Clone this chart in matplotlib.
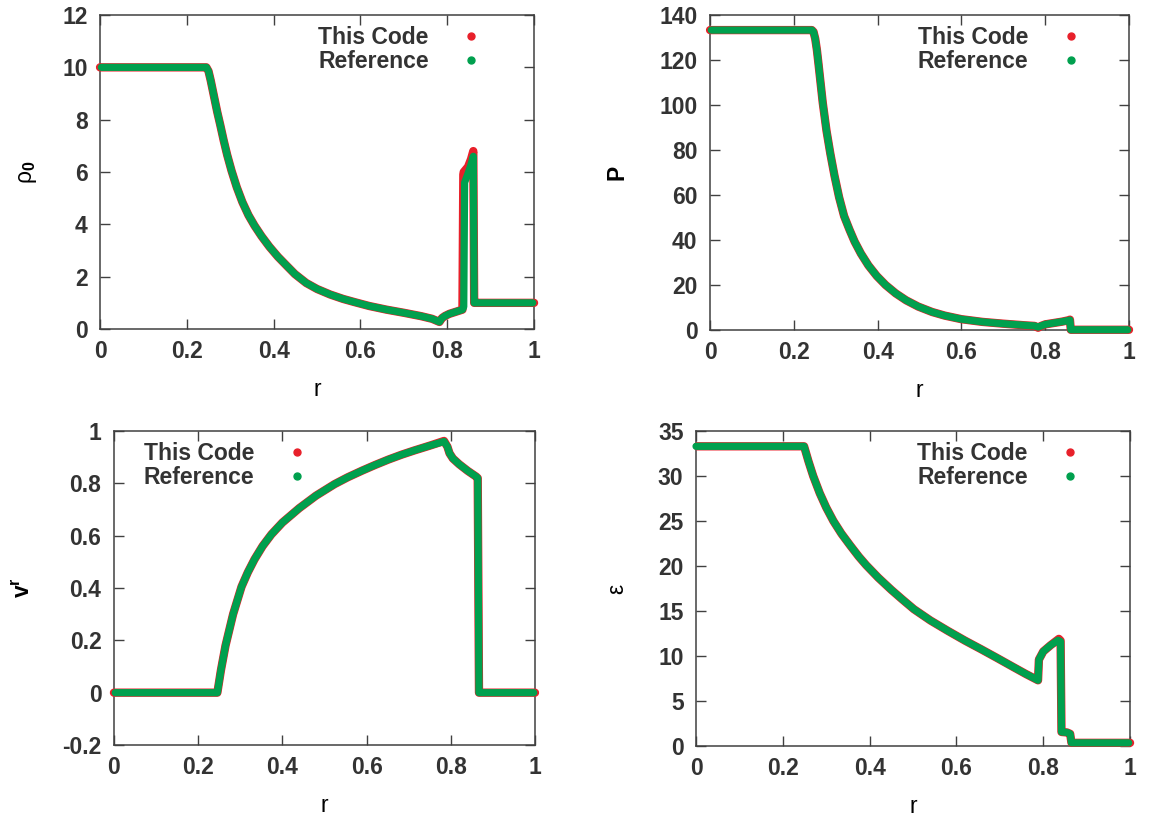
import matplotlib

matplotlib.use("Agg")
import matplotlib.pyplot as plt
from matplotlib.lines import Line2D

plt.rcParams.update({
    "font.family": ["Liberation Sans", "DejaVu Sans"],
    "font.weight": "bold",
    "font.size": 16.5,
    "mathtext.fontset": "custom",
    "mathtext.rm": "Liberation Sans",
    "mathtext.it": "Liberation Sans:italic",
    "mathtext.bf": "Liberation Sans:bold",
    "axes.unicode_minus": False,
    "text.color": "#333333",
    "axes.edgecolor": "#404040",
    "axes.linewidth": 1.1,
    "xtick.color": "#404040",
    "ytick.color": "#404040",
    "xtick.labelcolor": "#333333",
    "ytick.labelcolor": "#333333",
})

RED = "#e8202a"
GREEN = "#00a04e"

r_ticks = [0, 0.2, 0.4, 0.6, 0.8, 1]
r_tick_labels = ["0", "0.2", "0.4", "0.6", "0.8", "1"]
series_labels = ["This Code", "Reference"]

# rest-mass density rho_0
r_rho_code = [0.0, 0.05, 0.10, 0.15, 0.20, 0.245, 0.250, 0.255, 0.260, 0.265, 0.270, 0.277, 0.285,
              0.293, 0.303, 0.315, 0.328, 0.342, 0.356, 0.372, 0.390, 0.410, 0.430, 0.449, 0.475,
              0.50, 0.53, 0.56, 0.586, 0.62, 0.66, 0.70, 0.74, 0.765, 0.782, 0.788, 0.795, 0.805,
              0.82, 0.835, 0.837, 0.838, 0.848, 0.855, 0.860, 0.862, 0.864, 0.90, 0.95, 1.0]
rho_code = [10, 10, 10, 10, 10, 10, 9.85, 9.5, 9.1, 8.7, 8.3, 7.8, 7.2,
            6.65, 6.05, 5.42, 4.85, 4.35, 3.95, 3.55, 3.15, 2.76, 2.42, 2.1, 1.76,
            1.53, 1.32, 1.15, 1.03, 0.88, 0.74, 0.62, 0.49, 0.39, 0.27, 0.42, 0.5, 0.58,
            0.66, 0.74, 5.9, 6.0, 6.2, 6.5, 6.8, 1.0, 1.0, 1.0, 1.0, 1.0]
r_rho_ref = [0.003, 0.05, 0.10, 0.15, 0.20, 0.245, 0.250, 0.255, 0.260, 0.265, 0.270, 0.277, 0.285,
             0.293, 0.303, 0.315, 0.328, 0.342, 0.356, 0.372, 0.390, 0.410, 0.430, 0.449, 0.475,
             0.50, 0.53, 0.56, 0.586, 0.62, 0.66, 0.70, 0.74, 0.765, 0.782, 0.788, 0.795, 0.805,
             0.82, 0.835, 0.838, 0.840, 0.848, 0.855, 0.860, 0.862, 0.864, 0.90, 0.95, 0.997]
rho_ref = [10, 10, 10, 10, 10, 10, 9.85, 9.5, 9.1, 8.7, 8.3, 7.8, 7.2,
           6.65, 6.05, 5.42, 4.85, 4.35, 3.95, 3.55, 3.15, 2.76, 2.42, 2.1, 1.76,
           1.53, 1.32, 1.15, 1.03, 0.88, 0.74, 0.62, 0.49, 0.39, 0.27, 0.42, 0.5, 0.58,
           0.66, 0.74, 0.85, 5.6, 5.95, 6.3, 6.6, 1.0, 1.0, 1.0, 1.0, 1.0]

# pressure P
r_p_code = [0.0, 0.05, 0.10, 0.15, 0.20, 0.243, 0.247, 0.251, 0.255, 0.259, 0.264, 0.269, 0.278,
            0.287, 0.297, 0.308, 0.320, 0.333, 0.345, 0.360, 0.378, 0.398, 0.419, 0.443, 0.468,
            0.497, 0.53, 0.56, 0.60, 0.65, 0.70, 0.75, 0.775, 0.783, 0.79, 0.80, 0.82, 0.84,
            0.855, 0.859, 0.861, 0.90, 0.95, 1.0]
p_code = [133.3, 133.3, 133.3, 133.3, 133.3, 133.3, 132.5, 129.5, 124.5, 118, 109.5, 101, 88.5,
          78.5, 68.6, 59, 50.6, 44.5, 39.3, 34.0, 28.7, 24.0, 20.0, 16.3, 13.2,
          10.4, 8.0, 6.4, 4.8, 3.6, 2.8, 2.1, 1.8, 1.0, 1.8, 2.5, 3.1, 3.7,
          4.3, 4.6, 0.1, 0.1, 0.1, 0.1]
r_p_ref = [0.003, 0.05, 0.10, 0.15, 0.20, 0.243, 0.247, 0.251, 0.255, 0.259, 0.264, 0.269, 0.278,
           0.287, 0.297, 0.308, 0.320, 0.333, 0.345, 0.360, 0.378, 0.398, 0.419, 0.443, 0.468,
           0.497, 0.53, 0.56, 0.60, 0.65, 0.70, 0.75, 0.775, 0.783, 0.79, 0.80, 0.82, 0.84,
           0.855, 0.859, 0.861, 0.90, 0.95, 0.997]
p_ref = [133.3, 133.3, 133.3, 133.3, 133.3, 133.3, 132.5, 129.5, 124.5, 118, 109.5, 101, 88.5,
         78.5, 68.6, 59, 50.6, 44.5, 39.3, 34.0, 28.7, 24.0, 20.0, 16.3, 13.2,
         10.4, 8.0, 6.4, 4.8, 3.6, 2.8, 2.1, 1.8, 1.3, 1.8, 2.5, 3.1, 3.7,
         4.2, 4.4, 0.1, 0.1, 0.1, 0.1]

# radial velocity v^r
r_v_code = [0.0, 0.05, 0.10, 0.15, 0.20, 0.2456, 0.254, 0.265, 0.283, 0.303, 0.318, 0.334, 0.353,
            0.374, 0.40, 0.44, 0.48, 0.524, 0.555, 0.59, 0.62, 0.652, 0.684, 0.714, 0.75,
            0.784, 0.792, 0.797, 0.805, 0.82, 0.84, 0.86, 0.864, 0.867, 0.90, 0.95, 1.0]
v_code = [0, 0, 0, 0, 0, 0, 0.085, 0.18, 0.30, 0.405, 0.46, 0.51, 0.56,
          0.605, 0.65, 0.705, 0.753, 0.797, 0.823, 0.849, 0.87, 0.891, 0.91, 0.926, 0.944,
          0.962, 0.94, 0.915, 0.895, 0.873, 0.848, 0.826, 0.82, 0, 0, 0, 0]
r_v_ref = [0.003, 0.05, 0.10, 0.15, 0.20, 0.2456, 0.254, 0.265, 0.283, 0.303, 0.318, 0.334, 0.353,
           0.374, 0.40, 0.44, 0.48, 0.524, 0.555, 0.59, 0.62, 0.652, 0.684, 0.714, 0.75,
           0.784, 0.792, 0.797, 0.805, 0.82, 0.84, 0.86, 0.864, 0.867, 0.90, 0.95, 0.997]
v_ref = [0, 0, 0, 0, 0, 0, 0.085, 0.18, 0.30, 0.405, 0.46, 0.51, 0.56,
         0.605, 0.65, 0.705, 0.753, 0.797, 0.823, 0.849, 0.87, 0.891, 0.91, 0.926, 0.944,
         0.96, 0.94, 0.915, 0.895, 0.873, 0.848, 0.826, 0.82, 0, 0, 0, 0]

# specific internal energy epsilon
r_eps_code = [0.003, 0.05, 0.10, 0.15, 0.20, 0.249, 0.259, 0.270, 0.285, 0.30, 0.3165, 0.335, 0.355,
              0.375, 0.392, 0.42, 0.45, 0.475, 0.502, 0.54, 0.58, 0.62, 0.655, 0.691, 0.73,
              0.76, 0.788, 0.790, 0.80, 0.817, 0.836, 0.840, 0.842, 0.855, 0.862, 0.865, 0.90, 0.95, 1.0]
eps_code = [33.3, 33.3, 33.3, 33.3, 33.3, 33.3, 31.65, 30.0, 28.1, 26.5, 25.0, 23.6, 22.3,
            21.05, 20.1, 18.7, 17.35, 16.3, 15.2, 13.95, 12.8, 11.7, 10.8, 9.85, 8.8,
            8.0, 7.3, 9.6, 10.5, 11.2, 11.9, 11.7, 1.56, 1.5, 1.35, 0.35, 0.35, 0.35, 0.35]
r_eps_ref = [0.0, 0.05, 0.10, 0.15, 0.20, 0.249, 0.259, 0.270, 0.285, 0.30, 0.3165, 0.335, 0.355,
             0.375, 0.392, 0.42, 0.45, 0.475, 0.502, 0.54, 0.58, 0.62, 0.655, 0.691, 0.73,
             0.76, 0.788, 0.790, 0.80, 0.817, 0.834, 0.840, 0.842, 0.855, 0.862, 0.865, 0.90, 0.95, 0.997]
eps_ref = [33.3, 33.3, 33.3, 33.3, 33.3, 33.3, 31.65, 30.0, 28.1, 26.5, 25.0, 23.6, 22.3,
           21.05, 20.1, 18.7, 17.35, 16.3, 15.2, 13.95, 12.8, 11.7, 10.8, 9.85, 8.8,
           8.0, 7.3, 9.6, 10.5, 11.2, 11.75, 11.6, 1.56, 1.5, 1.35, 0.35, 0.35, 0.35, 0.35]


fig = plt.figure(figsize=(11.51, 8.16), dpi=100)


def panel(rect, r_code, y_code, r_ref, y_ref, ylim, yticks, ytick_labels,
          ylabel, ylabel_x, ylabel_weight, legend_anchor):
    ax = fig.add_axes(rect)
    ax.plot(r_code, y_code, color=RED, lw=6.0, solid_capstyle="round",
            solid_joinstyle="round", clip_on=False, zorder=3)
    ax.plot(r_ref, y_ref, color=GREEN, lw=5.2, solid_capstyle="round",
            solid_joinstyle="round", clip_on=False, zorder=4)
    ax.set_xlim(0, 1)
    ax.set_ylim(*ylim)
    ax.set_xticks(r_ticks, r_tick_labels)
    ax.set_yticks(yticks, ytick_labels)
    ax.tick_params(direction="in", top=True, right=True, length=7, width=1.0)
    ax.tick_params(axis="x", pad=8)
    ax.tick_params(axis="y", pad=9)
    ax.set_xlabel("r", va="center")
    ax.xaxis.set_label_coords(0.5, -0.192)
    ax.set_ylabel(ylabel, va="center", fontweight=ylabel_weight)
    ax.yaxis.set_label_coords(ylabel_x, 0.5)
    handles = [Line2D([], [], ls="none", marker="o", ms=5, color=RED),
               Line2D([], [], ls="none", marker="o", ms=5, color=GREEN)]
    ax.legend(handles, series_labels, loc="upper right", bbox_to_anchor=legend_anchor,
              frameon=False, markerfirst=False, handlelength=0.9, handletextpad=1.4,
              borderpad=0, borderaxespad=0, labelspacing=0.06)
    return ax


panel([0.0869, 0.5968, 0.3771, 0.3848], r_rho_code, rho_code, r_rho_ref, rho_ref,
      (0, 12), [0, 2, 4, 6, 8, 10, 12], ["0", "2", "4", "6", "8", "10", "12"],
      r"ρ$_\mathbf{0}$", -0.166, "normal", (0.879, 0.966))

panel([0.6169, 0.5956, 0.3640, 0.3860], r_p_code, p_code, r_p_ref, p_ref,
      (0, 140), [0, 20, 40, 60, 80, 100, 120, 140],
      ["0", "20", "40", "60", "80", "100", "120", "140"],
      "P", -0.222, "bold", (0.885, 0.966))

panel([0.0990, 0.0870, 0.3658, 0.3848], r_v_code, v_code, r_v_ref, v_ref,
      (-0.2, 1), [-0.2, 0, 0.2, 0.4, 0.6, 0.8, 1],
      ["-0.2", "0", "0.2", "0.4", "0.6", "0.8", "1"],
      r"v$^\mathbf{r}$", -0.214, "bold", (0.459, 0.965))

panel([0.6047, 0.0858, 0.3771, 0.3860], r_eps_code, eps_code, r_eps_ref, eps_ref,
      (0, 35), [0, 5, 10, 15, 20, 25, 30, 35],
      ["0", "5", "10", "15", "20", "25", "30", "35"],
      "ε", -0.182, "normal", (0.886, 0.965))

fig.savefig("out.png", dpi=100)
